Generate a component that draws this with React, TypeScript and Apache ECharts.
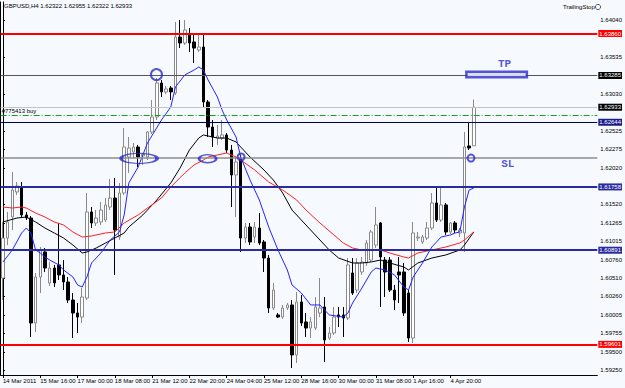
import React, { useEffect, useRef } from "react";
import * as echarts from "echarts";

const symbolText = "GBPUSD,H4";
const lastBarText = ["1.62322", "1.62955", "1.62322", "1.62933"];
const indicatorName = "TrailingStop";

const timeLabels = [
  "14 Mar 2011", "15 Mar 16:00", "17 Mar 00:00", "18 Mar 08:00", "21 Mar 12:00",
  "22 Mar 20:00", "24 Mar 04:00", "25 Mar 12:00", "28 Mar 16:00", "30 Mar 00:00",
  "31 Mar 08:00", "1 Apr 16:00", "4 Apr 20:00",
];
const barsPerLabel = 8;
const slotCount = 128;

const opens = [
  1.60510, 1.61058, 1.61346, 1.61689, 1.61757, 1.61374, 1.61332, 1.59894, 1.60524, 1.60867,
  1.60442, 1.60647, 1.60689, 1.60552, 1.60456, 1.60209, 1.60031, 1.59976, 1.60236, 1.61415,
  1.61264, 1.61278, 1.61305, 1.61483, 1.61606, 1.61072, 1.61675, 1.62168, 1.62237, 1.62305,
  1.62182, 1.62168, 1.62511, 1.62716, 1.63182, 1.63059, 1.63113, 1.63045, 1.63812, 1.63730,
  1.63840, 1.63744, 1.63634, 1.63675, 1.62922, 1.62579, 1.62428, 1.62428, 1.62470, 1.62264,
  1.61922, 1.62154, 1.61058, 1.61209, 1.61072, 1.61195, 1.61004, 1.60784, 1.60099, 1.60004,
  1.59976, 1.60099, 1.60141, 1.59456, 1.60182, 1.59908, 1.59825, 1.59825, 1.60031, 1.60113,
  1.59688, 1.59757, 1.60004, 1.60004, 1.59962, 1.60579, 1.60346, 1.60593, 1.60716, 1.60757,
  1.60962, 1.61264, 1.60757, 1.60757, 1.60346, 1.60593, 1.60593, 1.60305, 1.59688, 1.61058,
  1.61004, 1.61058, 1.61195, 1.61538, 1.61305, 1.61511, 1.61141, 1.61264, 1.61127, 1.61127,
  1.62319, 1.62322,
];
const closes = [
  1.61058, 1.61278, 1.61716, 1.61771, 1.61374, 1.61332, 1.59894, 1.60524, 1.60894, 1.60647,
  1.60647, 1.60442, 1.60552, 1.60456, 1.60209, 1.60031, 1.59976, 1.60250, 1.61415, 1.61264,
  1.61332, 1.61442, 1.61511, 1.61606, 1.61168, 1.61675, 1.62305, 1.62291, 1.62305, 1.62168,
  1.62209, 1.62511, 1.62716, 1.63182, 1.63059, 1.63100, 1.63059, 1.63812, 1.63730, 1.63908,
  1.63730, 1.63661, 1.63675, 1.62922, 1.62579, 1.62442, 1.62456, 1.62470, 1.62264, 1.61922,
  1.62100, 1.61058, 1.61209, 1.61004, 1.61209, 1.60990, 1.60784, 1.60099, 1.60346, 1.59976,
  1.60099, 1.60141, 1.59456, 1.60182, 1.59894, 1.59825, 1.59908, 1.60113, 1.60099, 1.59661,
  1.59757, 1.59976, 1.59976, 1.59962, 1.60689, 1.60305, 1.60716, 1.60730, 1.60990, 1.61141,
  1.61237, 1.60798, 1.60593, 1.60346, 1.60209, 1.60552, 1.60031, 1.59688, 1.61127, 1.61072,
  1.61072, 1.61195, 1.61538, 1.61305, 1.61511, 1.61141, 1.61264, 1.61168, 1.61168, 1.62305,
  1.62291, 1.62850,
];
const lows = [
  1.60209, 1.60962, 1.61168, 1.61648, 1.61346, 1.61305, 1.59702, 1.59771, 1.60305, 1.60593,
  1.60401, 1.60387, 1.60483, 1.60346, 1.60168, 1.59688, 1.59757, 1.59894, 1.60209, 1.61195,
  1.61223, 1.61237, 1.61278, 1.61442, 1.60552, 1.61031, 1.61648, 1.61949, 1.62154, 1.62031,
  1.62059, 1.62127, 1.62483, 1.62675, 1.62990, 1.63031, 1.62949, 1.63018, 1.63661, 1.63703,
  1.63607, 1.63456, 1.63607, 1.62839, 1.62442, 1.62305, 1.62333, 1.62401, 1.62223, 1.61483,
  1.61346, 1.60867, 1.60990, 1.60962, 1.60990, 1.60962, 1.60593, 1.60031, 1.60072, 1.59962,
  1.59949, 1.60072, 1.59277, 1.59346, 1.59853, 1.59702, 1.59688, 1.59798, 1.59976, 1.59360,
  1.59661, 1.59730, 1.59839, 1.59702, 1.59935, 1.60278, 1.60305, 1.60552, 1.60675, 1.60730,
  1.60921, 1.60113, 1.60250, 1.60319, 1.60072, 1.60168, 1.59990, 1.59634, 1.59620, 1.61017,
  1.60976, 1.61031, 1.61168, 1.61278, 1.61278, 1.61100, 1.61113, 1.61127, 1.61072, 1.60867,
  1.62264, 1.62322,
];
const highs = [
  1.61278, 1.61415, 1.61963, 1.61826, 1.61826, 1.61415, 1.61360, 1.60579, 1.60935, 1.60921,
  1.60730, 1.60689, 1.61264, 1.60757, 1.60524, 1.60305, 1.60168, 1.60373, 1.61675, 1.61483,
  1.61442, 1.61552, 1.61606, 1.61867, 1.61880, 1.61812, 1.62565, 1.62442, 1.62360, 1.62333,
  1.62223, 1.62524, 1.62949, 1.63250, 1.63223, 1.63141, 1.63141, 1.64018, 1.64045, 1.64045,
  1.63935, 1.63867, 1.63840, 1.63840, 1.62949, 1.62675, 1.62607, 1.62675, 1.62497, 1.62333,
  1.62168, 1.62196, 1.61264, 1.61264, 1.61278, 1.61401, 1.61031, 1.60826, 1.60442, 1.60031,
  1.60141, 1.60168, 1.60209, 1.60319, 1.60278, 1.60031, 1.59976, 1.60250, 1.60510, 1.60250,
  1.59839, 1.60113, 1.60113, 1.60113, 1.60784, 1.60784, 1.60784, 1.60798, 1.61031, 1.61168,
  1.61483, 1.61278, 1.60798, 1.60798, 1.60415, 1.60798, 1.60716, 1.60346, 1.61278, 1.61141,
  1.61100, 1.61278, 1.61675, 1.61743, 1.61743, 1.61538, 1.61278, 1.61291, 1.61195, 1.62511,
  1.62648, 1.62955,
];

// moving averages: [bar index, price]
const maBlue: [number, number][] = [
  [0, 1.60730], [2, 1.60894], [4, 1.61127], [5, 1.61195], [6, 1.61127], [7, 1.60894],
  [8, 1.60853], [9, 1.60798], [10, 1.60757], [12, 1.60689], [13, 1.60620], [15, 1.60524],
  [16, 1.60415], [17, 1.60387], [18, 1.60524], [19, 1.60716], [21, 1.60853], [23, 1.61031],
  [25, 1.61141], [26, 1.61374], [27, 1.61812], [29, 1.62031], [31, 1.62360], [34, 1.62675],
  [36, 1.62853], [37, 1.63127], [39, 1.63292], [41, 1.63360], [42, 1.63401], [43, 1.63360],
  [44, 1.63223], [46, 1.62990], [47, 1.62812], [48, 1.62675], [50, 1.62442], [51, 1.62168],
  [53, 1.61853], [55, 1.61579], [57, 1.61209], [59, 1.60894], [61, 1.60620], [62, 1.60415],
  [64, 1.60305], [66, 1.60141], [68, 1.60141], [69, 1.60072], [70, 1.60004], [73, 1.59976],
  [74, 1.60031], [75, 1.60168], [77, 1.60373], [79, 1.60593], [80, 1.60647], [82, 1.60620],
  [84, 1.60552], [86, 1.60387], [87, 1.60346], [88, 1.60524], [90, 1.60716], [92, 1.60935],
  [94, 1.61072], [96, 1.61100], [97, 1.61127], [98, 1.61141], [99, 1.61483], [100, 1.61716],
  [101, 1.61743],
];
const maBlack: [number, number][] = [
  [0, 1.61278], [3, 1.61332], [5, 1.61346], [7, 1.61278], [9, 1.61195], [11, 1.61127],
  [13, 1.61058], [15, 1.60962], [17, 1.60853], [18, 1.60867], [20, 1.60921], [22, 1.60990],
  [24, 1.61058], [26, 1.61127], [27, 1.61209], [30, 1.61374], [33, 1.61579], [36, 1.61812],
  [38, 1.62018], [40, 1.62264], [42, 1.62428], [43, 1.62470], [46, 1.62428], [48, 1.62428],
  [50, 1.62374], [51, 1.62305], [53, 1.62168], [56, 1.61990], [58, 1.61853], [60, 1.61675],
  [62, 1.61442], [64, 1.61305], [66, 1.61168], [68, 1.61031], [70, 1.60894], [72, 1.60784],
  [75, 1.60716], [77, 1.60716], [79, 1.60730], [81, 1.60757], [83, 1.60716], [86, 1.60661],
  [87, 1.60620], [89, 1.60716], [92, 1.60784], [95, 1.60826], [98, 1.60894], [99, 1.60962],
  [101, 1.61141],
];
const maRed: [number, number][] = [
  [0, 1.61483], [2, 1.61469], [4, 1.61483], [5, 1.61469], [7, 1.61401], [9, 1.61346],
  [11, 1.61278], [13, 1.61237], [15, 1.61141], [17, 1.61072], [19, 1.61086], [22, 1.61127],
  [24, 1.61141], [26, 1.61264], [29, 1.61374], [31, 1.61469], [34, 1.61606], [36, 1.61757],
  [39, 1.61949], [41, 1.62059], [43, 1.62127], [44, 1.62168], [46, 1.62196], [48, 1.62223],
  [50, 1.62168], [51, 1.62127], [54, 1.61990], [57, 1.61826], [60, 1.61716], [63, 1.61579],
  [65, 1.61442], [68, 1.61264], [71, 1.61100], [73, 1.60990], [75, 1.60921], [77, 1.60894],
  [81, 1.60894], [83, 1.60853], [86, 1.60798], [87, 1.60784], [89, 1.60853], [92, 1.60894],
  [95, 1.60935], [98, 1.60990], [99, 1.61031], [101, 1.61141],
];

const priceTicks = [
  1.64040, 1.63535, 1.63030, 1.62525, 1.62275, 1.62020, 1.61520, 1.61265, 1.61015,
  1.60760, 1.60510, 1.60260, 1.60005, 1.59755, 1.59500, 1.59250,
];
const yMin = 1.591815;
const yMax = 1.642916;

const redLevels = [1.63860, 1.59601];
const blueLevels = [1.61758, 1.60891];
const navyLevel = 1.62644;
const tpLevel = 1.63285;
const slLevel = 1.62154;
const orderLevel = 1.62744;
const orderText = "#775413 buy";
const bidLevel = 1.62850;
const bidText = "1.62933";

// annotations: [bar position, price]
const ringMarks: [number, number][] = [[32.93, 1.63296], [51.08, 1.62168], [100.4, 1.62154]];
const ellipseMarks: [number, number][] = [[29.2, 1.62149], [43.9, 1.62145]];
const tpBox: [number, number] = [105.9, 1.63298];
const tpTextPos: [number, number] = [107.6, 1.63442];
const slTextPos: [number, number] = [108.3, 1.62072];

const FONT = "Liberation Sans";
const BG = "#f6f9fd";
const ANNOT = "#2b2bcc";

export default function App() {
  const ref = useRef<HTMLDivElement>(null);
  useEffect(() => {
    if (!ref.current) return;
    const chart = echarts.init(ref.current, undefined, { renderer: "svg" });
    const categories = opens.map((_, i) => "b" + i);
    while (categories.length < slotCount) categories.push("b" + categories.length);
    const candles = opens.map((o, i) => [o, closes[i], lows[i], highs[i]]);
    const boxLabel = (bg: string, text?: string) => ({
      show: true,
      position: "end",
      distance: 1,
      formatter: (p: any) => text ?? Number(p.value).toFixed(5),
      color: "#fff",
      backgroundColor: bg,
      padding: [1, 1, 0, 1],
      fontSize: 6,
      fontFamily: FONT,
    });
    const markData: any[] = [
      ...redLevels.map((v) => ({ yAxis: v, lineStyle: { color: "#ff0000", width: 2, type: "solid" }, label: boxLabel("#ff0000") })),
      ...blueLevels.map((v) => ({ yAxis: v, lineStyle: { color: "#2b2b9e", width: 2, type: "solid" }, label: boxLabel("#2b2b9e") })),
      { yAxis: navyLevel, lineStyle: { color: "#000060", width: 1.2, type: "solid" }, label: boxLabel("#1c1c8c") },
      { yAxis: tpLevel, lineStyle: { color: "#555555", width: 1, type: "solid" }, label: boxLabel("#000000") },
      { yAxis: slLevel, lineStyle: { color: "#8c8c8c", width: 1.5, type: "solid" }, label: { show: false } },
      { yAxis: bidLevel, lineStyle: { color: "#c4c4c4", width: 1, type: "solid" }, label: boxLabel("#000000", bidText) },
      {
        yAxis: orderLevel,
        lineStyle: { color: "#1f9a1f", width: 1, type: [6, 2, 1, 2] },
        label: { show: true, position: "insideStartTop", distance: 1, formatter: orderText, color: "#000", fontSize: 6, fontFamily: FONT },
      },
    ];
    chart.setOption({
      animation: false,
      backgroundColor: BG,
      grid: { left: 0, right: 22, top: 2, bottom: 13, containLabel: false },
      xAxis: [
        {
          type: "category",
          data: categories,
          boundaryGap: true,
          axisLine: { show: true, lineStyle: { color: "#000" } },
          axisTick: {
            show: true,
            alignWithLabel: true,
            length: 3,
            interval: (i: number) => i % barsPerLabel === 0 && i / barsPerLabel < timeLabels.length,
            lineStyle: { color: "#000" },
          },
          axisLabel: {
            interval: 0,
            align: "left",
            margin: 3,
            fontSize: 6,
            fontFamily: FONT,
            color: "#000",
            formatter: (_: string, i: number) =>
              i % barsPerLabel === 0 && i / barsPerLabel < timeLabels.length ? timeLabels[i / barsPerLabel] : "",
          },
          splitLine: { show: false },
        },
        { type: "value", min: -0.5, max: slotCount - 0.5, show: false },
      ],
      yAxis: [
        {
          type: "value",
          position: "right",
          min: yMin,
          max: yMax,
          scale: true,
          splitLine: { show: false },
          axisLine: { show: true, lineStyle: { color: "#000" } },
          axisTick: { show: true, customValues: priceTicks, length: 2, lineStyle: { color: "#000" } },
          axisLabel: {
            customValues: priceTicks,
            formatter: (v: number) => v.toFixed(5),
            fontSize: 6,
            fontFamily: FONT,
            color: "#000",
            margin: 3,
          },
        },
        {
          type: "value",
          position: "left",
          min: yMin,
          max: yMax,
          axisLine: { show: true, onZero: false, lineStyle: { color: "#000" } },
          axisTick: { show: false },
          axisLabel: { show: false },
          splitLine: { show: false },
        },
      ],
      graphic: [
        {
          type: "text",
          left: 4,
          top: 3,
          style: { text: symbolText + " " + lastBarText.join(" "), fontSize: 6, fontFamily: FONT, fill: "#000" },
        },
        {
          type: "text",
          left: 563,
          top: 4,
          style: { text: indicatorName, fontSize: 6, fontFamily: FONT, fill: "#000" },
        },
        {
          type: "circle",
          shape: { cx: 598, cy: 7, r: 2.6 },
          style: { fill: "none", stroke: "#333", lineWidth: 0.8 },
        },
      ],
      series: [
        {
          type: "candlestick",
          data: candles,
          barWidth: 3,
          itemStyle: {
            color: "#ffffff",
            color0: "#000000",
            borderColor: "#8a8a8a",
            borderColor0: "#000000",
            borderWidth: 1,
          },
          markLine: {
            silent: true,
            symbol: ["none", "none"],
            precision: 5,
            animation: false,
            data: markData,
          },
        },
        { type: "line", data: maBlack, showSymbol: false, lineStyle: { color: "#000000", width: 1 }, z: 3 },
        { type: "line", data: maRed, showSymbol: false, lineStyle: { color: "#ff2020", width: 1 }, z: 3 },
        { type: "line", data: maBlue, showSymbol: false, lineStyle: { color: "#2323ff", width: 1 }, z: 3 },
        {
          type: "scatter",
          xAxisIndex: 1,
          data: [tpBox],
          symbol: "rect",
          symbolSize: [63, 8],
          itemStyle: { color: ANNOT },
          z: 5,
        },
        {
          type: "scatter",
          xAxisIndex: 1,
          data: [tpBox],
          symbol: "rect",
          symbolSize: [58, 3],
          itemStyle: { color: "#ffffff" },
          z: 6,
        },
        {
          type: "scatter",
          xAxisIndex: 1,
          data: ringMarks,
          symbol: "circle",
          symbolSize: (_: any, p: any) => (p.dataIndex === 0 ? 11 : 7),
          itemStyle: { color: "rgba(0,0,0,0)", borderColor: ANNOT, borderWidth: 2 },
          z: 6,
        },
        {
          type: "scatter",
          xAxisIndex: 1,
          data: ellipseMarks,
          symbol: "circle",
          symbolSize: (_: any, p: any) => (p.dataIndex === 0 ? [36, 10] : [17, 8]),
          itemStyle: { color: "rgba(0,0,0,0)", borderColor: ANNOT, borderWidth: 2 },
          z: 6,
        },
        {
          type: "scatter",
          xAxisIndex: 1,
          data: [
            { value: tpTextPos, name: "TP" },
            { value: slTextPos, name: "SL" },
          ],
          symbolSize: 0,
          label: {
            show: true,
            position: "inside",
            formatter: (p: any) => p.name,
            color: ANNOT,
            fontSize: 11,
            fontWeight: "bold",
            fontFamily: "Liberation Mono",
          },
          z: 7,
        },
      ],
    });
    return () => chart.dispose();
  }, []);
  return (
    <div
      ref={ref}
      style={{ position: "fixed", left: 0, top: 0, width: 625, height: 388 }}
    />
  );
}
